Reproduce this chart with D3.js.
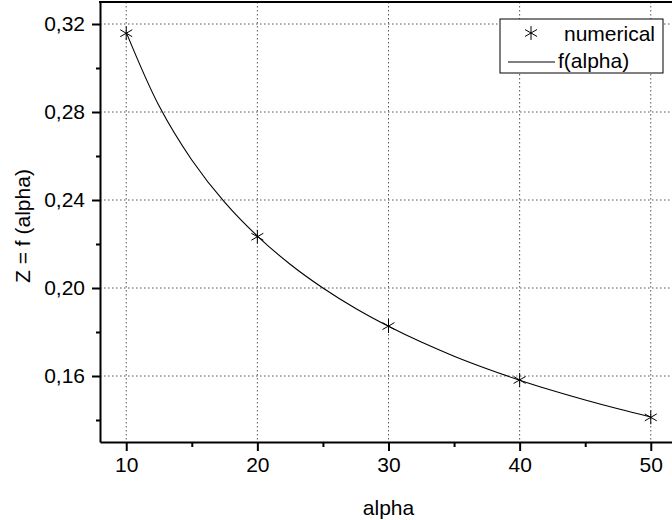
<html>
<head>
<script src="https://d3js.org/d3.v7.min.js"></script>
<style>
  body { margin: 0; background: white; }
  text { font-family: "Liberation Sans", Arial, sans-serif; }
</style>
</head>
<body>
<svg id="chart" width="672" height="520"></svg>
<script>
// numerical results
var alphaNum = [10, 20, 30, 40, 50]
var zNum = [0.3158, 0.2233, 0.1827, 0.1582, 0.1412]
// f(alpha) curve
var alphaFit = [10, 12.5, 15, 17.5, 20, 22.5, 25, 27.5, 30, 32.5, 35, 37.5, 40, 42.5, 45, 47.5, 50]
var zFit = [0.3162, 0.2828, 0.2582, 0.2390, 0.2236, 0.2108, 0.2000, 0.1907, 0.1826, 0.1754, 0.1690, 0.1633, 0.1581, 0.1534, 0.1491, 0.1451, 0.1414]
var xTicks = [10, 20, 30, 40, 50]
var xMinor = [15, 25, 35, 45]
var yTicks = [0.16, 0.20, 0.24, 0.28, 0.32]
var yMinor = [0.14, 0.18, 0.22, 0.26, 0.30]

const svg = d3.select("#chart")
const mLeft = 100, mTop = 2, mBottom = 442, mRight = 677
const fs = "21px"

var x = d3.scaleLinear().domain([8, 52]).range([mLeft, mRight])
var y = d3.scaleLinear().domain([0.13, 0.33]).range([mBottom, mTop])
var fmt = function(d){ return d3.format(".2f")(d).replace(".", ",") }

// grid
var grid = svg.append("g")
  .attr("stroke", "#555")
  .attr("stroke-width", 1)
  .attr("stroke-dasharray", "1.5,2.5")
grid.selectAll(".gx").data(xTicks).enter().append("line")
  .attr("x1", d => x(d)).attr("x2", d => x(d))
  .attr("y1", mTop).attr("y2", mBottom)
grid.selectAll(".gy").data(yTicks).enter().append("line")
  .attr("x1", mLeft).attr("x2", mRight)
  .attr("y1", d => y(d)).attr("y2", d => y(d))

// axes
var xAxis = svg.append("g")
  .attr("transform", "translate(0," + mBottom + ")")
  .call(d3.axisBottom(x).tickValues(xTicks).tickSize(9).tickPadding(6).tickSizeOuter(0))
xAxis.append("g").call(d3.axisBottom(x).tickValues(xMinor).tickSize(5).tickFormat("").tickSizeOuter(0))
  .select(".domain").remove()

var yAxis = svg.append("g")
  .attr("transform", "translate(" + mLeft + ",0)")
  .call(d3.axisLeft(y).tickValues(yTicks).tickSize(8).tickPadding(7).tickFormat(fmt).tickSizeOuter(0))
yAxis.append("g").call(d3.axisLeft(y).tickValues(yMinor).tickSize(4).tickFormat("").tickSizeOuter(0))
  .select(".domain").remove()

svg.selectAll(".domain").attr("stroke", "black").attr("stroke-width", 2)
svg.selectAll(".tick line").attr("stroke", "black").attr("stroke-width", 2)
svg.selectAll(".tick text")
  .attr("fill", "black")
  .style("font-size", fs)
  .style("font-family", "'Liberation Sans', Arial, sans-serif")

// top frame
svg.append("line")
  .attr("x1", mLeft - 1).attr("x2", 672)
  .attr("y1", y(0.33)).attr("y2", y(0.33))
  .attr("stroke", "black").attr("stroke-width", 2)

// fitted curve
var line = d3.line()
  .x((d, i) => x(alphaFit[i]))
  .y(d => y(d))
  .curve(d3.curveCatmullRom)
svg.append("path")
  .datum(zFit)
  .attr("d", line)
  .attr("fill", "none")
  .attr("stroke", "black")
  .attr("stroke-width", 1.1)

// numerical points
var star = d3.symbol().type(d3.symbolAsterisk).size(135)
svg.selectAll(".pt").data(zNum).enter().append("path")
  .attr("d", star)
  .attr("transform", (d, i) => "translate(" + x(alphaNum[i]) + "," + y(d) + ")")
  .attr("fill", "none")
  .attr("stroke", "black")
  .attr("stroke-width", 1)

// axis titles
svg.append("text")
  .attr("x", x(30)).attr("y", 515)
  .attr("text-anchor", "middle")
  .style("font-size", fs)
  .text("alpha")
svg.append("text")
  .attr("transform", "translate(30," + 226 + ") rotate(-90)")
  .attr("text-anchor", "middle")
  .style("font-size", fs)
  .text("Z = f (alpha)")

// legend
var lg = svg.append("g")
lg.append("rect")
  .attr("x", 500).attr("y", 19).attr("width", 163).attr("height", 54)
  .attr("fill", "white").attr("stroke", "black").attr("stroke-width", 1)
lg.append("path")
  .attr("d", star)
  .attr("transform", "translate(531,33)")
  .attr("fill", "none").attr("stroke", "black")
lg.append("text").attr("x", 564).attr("y", 41).style("font-size", fs).text("numerical")
lg.append("line")
  .attr("x1", 508).attr("x2", 555).attr("y1", 62).attr("y2", 62)
  .attr("stroke", "black").attr("stroke-width", 1)
lg.append("text").attr("x", 558).attr("y", 68).style("font-size", fs).text("f(alpha)")
</script>
</body>
</html>
